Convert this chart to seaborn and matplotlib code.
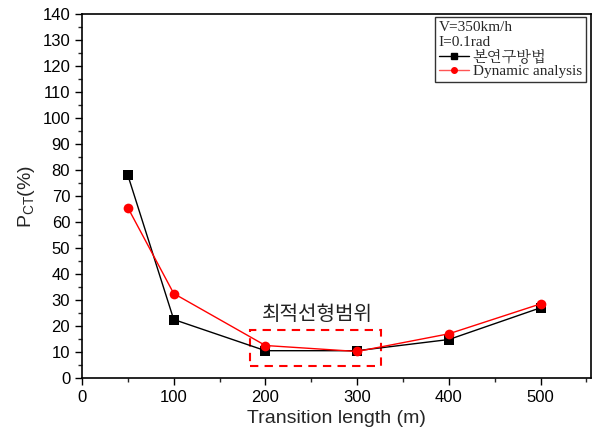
import matplotlib
matplotlib.use("Agg")
import matplotlib.pyplot as plt
import seaborn as sns
import pandas as pd
from matplotlib.patches import Rectangle
from matplotlib.lines import Line2D
from matplotlib.ticker import MultipleLocator
from matplotlib.font_manager import FontProperties

lengths = [50, 100, 200, 300, 400, 500]
proposed = [78, 22.5, 10.5, 10.5, 14.8, 27]
dynamic = [65.5, 32.5, 12.5, 10.2, 17, 28.5]
series_names = ["본연구방법", "Dynamic analysis"]
conditions = ["V=350km/h", "I=0.1rad"]

df = pd.concat([
    pd.DataFrame({"x": lengths, "y": proposed, "s": series_names[0]}),
    pd.DataFrame({"x": lengths, "y": dynamic, "s": series_names[1]}),
])

sns.set_style("ticks")
plt.rcParams['font.family'] = ['Liberation Sans', 'Noto Sans CJK KR', 'DejaVu Sans']

fig = plt.figure(figsize=(5.95, 4.37), dpi=100)
ax = fig.add_axes([82/595, 1-378/437, (591-82)/595, (378-14)/437])

sns.lineplot(data=df, x="x", y="y", hue="s", style="s",
             palette={series_names[0]: "black", series_names[1]: "red"},
             markers={series_names[0]: "s", series_names[1]: "o"},
             dashes=False, markersize=7, linewidth=1, markeredgewidth=0,
             ax=ax, legend=False, sort=False)

ax.set_xlim(0, 555)
ax.set_ylim(0, 140)
ax.xaxis.set_major_locator(MultipleLocator(100))
ax.xaxis.set_minor_locator(MultipleLocator(50))
ax.yaxis.set_major_locator(MultipleLocator(10))
ax.yaxis.set_minor_locator(MultipleLocator(5))
ax.tick_params(which="major", direction="out", length=5, width=1, labelsize=12, colors="black")
ax.tick_params(which="minor", direction="out", length=3, width=1)
ax.tick_params(top=False, right=False)
for sp in ax.spines.values():
    sp.set_linewidth(1.2)
    sp.set_color("black")

ax.set_xlabel("Transition length (m)", fontsize=14)
ax.set_ylabel("P$_{\\mathregular{CT}}$(%)", fontsize=14)

ax.add_patch(Rectangle((183, 4.6), 143, 14, fill=False, edgecolor="red",
                       linestyle=(0, (4, 3)), linewidth=1.5))
ax.text(257, 24.5, "최적선형범위", ha="center", va="center", fontsize=14.5,
        family=['Noto Sans CJK KR'], color="#222222")

serif = ['Liberation Serif', 'Noto Serif CJK KR', 'Noto Sans CJK KR']
handles = [
    Line2D([], [], color="black", marker="s", markersize=4, lw=1, label=series_names[0]),
    Line2D([], [], color="#ff5555", mfc="red", mec="red", marker="o", markersize=4, lw=1, label=series_names[1]),
]
leg = ax.legend(handles=handles, loc="upper right", bbox_to_anchor=(0.99, 0.992),
                frameon=True, fancybox=False, edgecolor="black",
                prop=FontProperties(family=serif, size=11),
                title="\n".join(conditions),
                title_fontproperties=FontProperties(family=serif, size=11),
                handlelength=2.0, handletextpad=0.25, borderpad=0.25,
                labelspacing=0.02, borderaxespad=0)
leg._legend_box.align = "left"
leg.get_frame().set_linewidth(1)

fig.savefig("out.png", dpi=100)
